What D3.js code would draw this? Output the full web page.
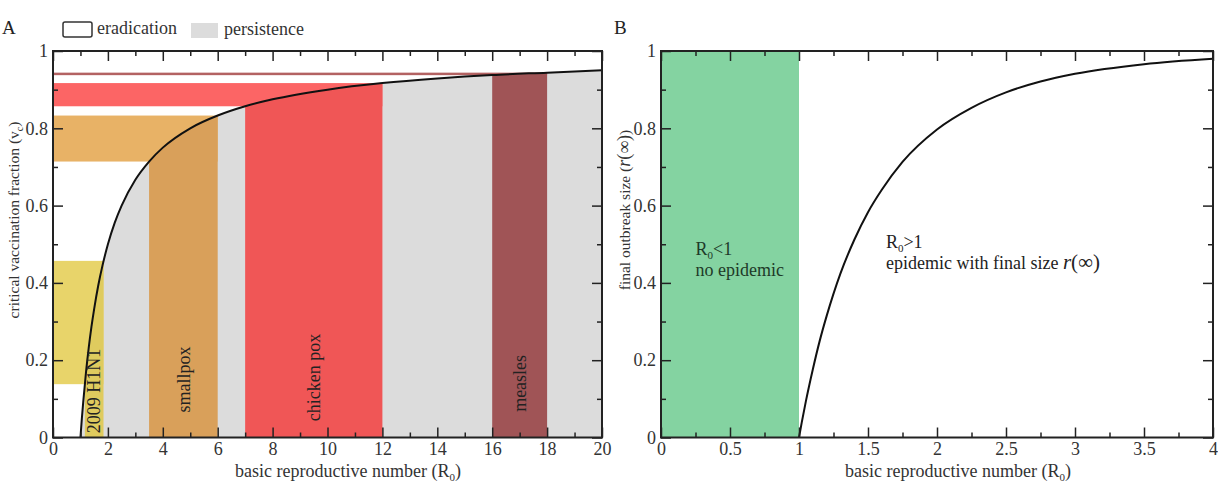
<!DOCTYPE html>
<html>
<head>
<meta charset="utf-8">
<script src="https://cdn.jsdelivr.net/npm/d3@7"></script>
<style>
  body { margin: 0; background: #fff; }
  svg { display: block; font-family: "Liberation Serif", "DejaVu Serif", serif; }
</style>
</head>
<body>
<svg width="1218" height="486"></svg>
<script>
// values

// panel A: critical vaccination fraction vs R0
var r0A = [1, 1.05, 1.1, 1.2, 1.3, 1.4, 1.5, 1.65, 1.8, 2, 2.25, 2.5, 3, 3.5, 4, 5, 6, 7, 8, 10, 12, 14, 16, 18, 20];
var vcA = [0, 0.048, 0.091, 0.167, 0.231, 0.286, 0.333, 0.394, 0.444, 0.5, 0.556, 0.6, 0.667, 0.714, 0.75, 0.8, 0.833, 0.857, 0.875, 0.9, 0.917, 0.929, 0.938, 0.944, 0.95];

// diseases: R0 range and matching vc range
var diseases = ["2009 H1N1", "smallpox", "chicken pox", "measles"];
var r0Lo = [1.16, 3.5, 7, 16];
var r0Hi = [1.84, 6, 12, 18];
var vcLo = [0.138, 0.714, 0.857, 0.9375];
var vcHi = [0.457, 0.833, 0.917, 0.944];

// panel B: final outbreak size vs R0
var r0B = [1, 1.02, 1.05, 1.1, 1.15, 1.2, 1.3, 1.4, 1.5, 1.6, 1.75, 2, 2.25, 2.5, 2.75, 3, 3.5, 4];
var sizeB = [0, 0.039, 0.094, 0.176, 0.25, 0.314, 0.424, 0.511, 0.583, 0.641, 0.713, 0.797, 0.853, 0.893, 0.921, 0.941, 0.966, 0.98];

// ticks
var xTicksA = d3.range(0, 21, 2), xMinorA = d3.range(1, 20, 2);
var yTicks = [0, 0.2, 0.4, 0.6, 0.8, 1], yMinor = [0.1, 0.3, 0.5, 0.7, 0.9];
var xTicksB = [0, 0.5, 1, 1.5, 2, 2.5, 3, 3.5, 4], xMinorB = [0.25, 0.75, 1.25, 1.75, 2.25, 2.75, 3.25, 3.75];

var hColors = ["#e8d46a", "#e8b266", "#fc6565", "#b36262"];
var vColors = ["#dfcb5e", "#d9a05a", "#f05656", "#a05456"];
var grey = "#dcdcdc";

var svg = d3.select("svg");
var fontSize = 18;

var top_ = 51, height = 386.5;

function frame(g, x, y, xMaj, xMin, w, h) {
    var fmt = d3.format("~g");
    g.append("g").attr("transform", "translate(0," + h + ")")
        .call(d3.axisBottom(x).tickValues(xMaj).tickSizeInner(-10).tickSizeOuter(0).tickPadding(5).tickFormat(fmt));
    g.append("g").attr("transform", "translate(0," + h + ")")
        .call(d3.axisBottom(x).tickValues(xMin).tickSizeInner(-5).tickSizeOuter(0).tickFormat(""));
    g.append("g")
        .call(d3.axisTop(x).tickValues(xMaj).tickSizeInner(-10).tickSizeOuter(0).tickFormat(""));
    g.append("g")
        .call(d3.axisTop(x).tickValues(xMin).tickSizeInner(-5).tickSizeOuter(0).tickFormat(""));
    g.append("g")
        .call(d3.axisLeft(y).tickValues(yTicks).tickSizeInner(-10).tickSizeOuter(0).tickPadding(5).tickFormat(fmt));
    g.append("g")
        .call(d3.axisLeft(y).tickValues(yMinor).tickSizeInner(-5).tickSizeOuter(0).tickFormat(""));
    g.append("g").attr("transform", "translate(" + w + ",0)")
        .call(d3.axisRight(y).tickValues(yTicks).tickSizeInner(-10).tickSizeOuter(0).tickFormat(""));
    g.append("g").attr("transform", "translate(" + w + ",0)")
        .call(d3.axisRight(y).tickValues(yMinor).tickSizeInner(-5).tickSizeOuter(0).tickFormat(""));

    g.selectAll(".domain").remove();
    g.selectAll(".tick line").attr("stroke", "#222").attr("stroke-width", 1.5);
    g.selectAll(".tick text")
        .attr("font-family", "Liberation Serif, serif")
        .style("font-size", fontSize + "px")
        .attr("fill", "#333");

    g.append("rect")
        .attr("width", w).attr("height", h)
        .attr("fill", "none").attr("stroke", "#222").attr("stroke-width", 2);
}

// ---------- panel A ----------
var leftA = 53, widthA = 549;
var gA = svg.append("g").attr("transform", "translate(" + leftA + "," + top_ + ")");
var xA = d3.scaleLinear().domain([0, 20]).range([0, widthA]);
var yA = d3.scaleLinear().domain([0, 1]).range([height, 0]);

var ptsA = r0A.map(function(d, i) { return [d, vcA[i]]; });

var areaA = d3.area()
    .x(d => xA(d[0]))
    .y0(yA(0))
    .y1(d => yA(d[1]))
    .curve(d3.curveMonotoneX);
var lineA = d3.line()
    .x(d => xA(d[0]))
    .y(d => yA(d[1]))
    .curve(d3.curveMonotoneX);

svg.append("defs").append("clipPath").attr("id", "under")
    .append("path").attr("d", areaA(ptsA));

// persistence region
gA.append("path").attr("d", areaA(ptsA)).attr("fill", grey);

// horizontal bands (vc ranges)
gA.selectAll(".hband")
    .data(diseases)
    .join("rect")
    .attr("class", "hband")
    .attr("x", xA(0))
    .attr("width", (d, i) => xA(r0Hi[i]) - xA(0))
    .attr("y", (d, i) => yA(vcHi[i]))
    .attr("height", (d, i) => yA(vcLo[i]) - yA(vcHi[i]))
    .attr("fill", (d, i) => hColors[i]);

// vertical bands (R0 ranges), under the curve
gA.append("g").attr("clip-path", "url(#under)")
    .selectAll("rect")
    .data(diseases)
    .join("rect")
    .attr("x", (d, i) => xA(r0Lo[i]))
    .attr("width", (d, i) => xA(r0Hi[i]) - xA(r0Lo[i]))
    .attr("y", yA(1))
    .attr("height", height)
    .attr("fill", (d, i) => vColors[i]);

gA.append("path")
    .attr("d", lineA(ptsA))
    .attr("fill", "none")
    .attr("stroke", "#111")
    .attr("stroke-width", 2);

// disease labels
var labelY = [0.12, 0.15, 0.155, 0.14];
gA.selectAll(".dlabel")
    .data(diseases)
    .join("text")
    .attr("class", "dlabel")
    .attr("transform", (d, i) => "translate(" + xA((r0Lo[i] + r0Hi[i]) / 2) + "," + yA(labelY[i]) + ") rotate(-90)")
    .attr("text-anchor", "middle")
    .attr("dy", "0.35em")
    .style("font-size", "18px")
    .attr("fill", "#222")
    .text(d => d);

frame(gA, xA, yA, xTicksA, xMinorA, widthA, height);

// ---------- panel B ----------
var leftB = 661, widthB = 552;
var gB = svg.append("g").attr("transform", "translate(" + leftB + "," + top_ + ")");
var xB = d3.scaleLinear().domain([0, 4]).range([0, widthB]);
var yB = d3.scaleLinear().domain([0, 1]).range([height, 0]);

gB.append("rect")
    .attr("x", xB(0)).attr("y", yB(1))
    .attr("width", xB(1) - xB(0)).attr("height", yB(0) - yB(1))
    .attr("fill", "#84d3a1");

var ptsB = r0B.map(function(d, i) { return [d, sizeB[i]]; });
gB.append("path")
    .attr("d", d3.line().x(d => xB(d[0])).y(d => yB(d[1])).curve(d3.curveMonotoneX)(ptsB))
    .attr("fill", "none")
    .attr("stroke", "#111")
    .attr("stroke-width", 2);

// annotations
var noteL = gB.append("text").attr("x", xB(0.25)).attr("y", 204)
    .style("font-size", "18px").attr("fill", "#1e3a28");
noteL.append("tspan").text("R");
noteL.append("tspan").attr("dy", 4).style("font-size", "11px").text("0");
noteL.append("tspan").attr("dy", -4).text("<1");
gB.append("text").attr("x", xB(0.25)).attr("y", 225)
    .style("font-size", "18px").attr("fill", "#1e3a28").text("no epidemic");

var noteR = gB.append("text").attr("x", xB(1.63)).attr("y", 197)
    .style("font-size", "18px").attr("fill", "#222");
noteR.append("tspan").text("R");
noteR.append("tspan").attr("dy", 4).style("font-size", "11px").text("0");
noteR.append("tspan").attr("dy", -4).text(">1");
var noteR2 = gB.append("text").attr("x", xB(1.63)).attr("y", 218)
    .style("font-size", "18px").attr("fill", "#222");
noteR2.append("tspan").text("epidemic with final size ");
noteR2.append("tspan").style("font-style", "italic").style("font-size", "21px").text("r");
noteR2.append("tspan").style("font-size", "21px").text("(∞)");

frame(gB, xB, yB, xTicksB, xMinorB, widthB, height);

// ---------- axis titles ----------
function r0Title(cx) {
    var t = svg.append("text").attr("x", cx).attr("y", 477)
        .attr("text-anchor", "middle").style("font-size", "18px").attr("fill", "#333");
    t.append("tspan").text("basic reproductive number (R");
    t.append("tspan").attr("dy", 4).style("font-size", "11px").text("0");
    t.append("tspan").attr("dy", -4).text(")");
}
r0Title(348);
r0Title(958);

var ytA = svg.append("text")
    .attr("transform", "translate(19,220) rotate(-90)")
    .attr("text-anchor", "middle").style("font-size", "15.5px").attr("fill", "#333");
ytA.append("tspan").text("critical vaccination fraction (v");
ytA.append("tspan").attr("dy", 4).style("font-size", "10px").text("c");
ytA.append("tspan").attr("dy", -4).text(")");

var ytB = svg.append("text")
    .attr("transform", "translate(630,210) rotate(-90)")
    .attr("text-anchor", "middle").style("font-size", "15.5px").attr("fill", "#333");
ytB.append("tspan").text("final outbreak size (");
ytB.append("tspan").style("font-style", "italic").style("font-size", "18px").text("r");
ytB.append("tspan").style("font-size", "18px").text("(∞)");
ytB.append("tspan").text(")");

// panel letters
svg.append("text").attr("x", 2).attr("y", 34).style("font-size", "19px").attr("fill", "#222").text("A");
svg.append("text").attr("x", 614).attr("y", 34).style("font-size", "19px").attr("fill", "#222").text("B");

// legend
var leg = svg.append("g");
leg.append("rect").attr("x", 63).attr("y", 22).attr("width", 29).attr("height", 15).attr("rx", 2)
    .attr("fill", "#fff").attr("stroke", "#333").attr("stroke-width", 1.5);
leg.append("text").attr("x", 97).attr("y", 34).style("font-size", "18px").attr("fill", "#333").text("eradication");
leg.append("rect").attr("x", 191).attr("y", 23).attr("width", 27).attr("height", 15).attr("fill", grey);
leg.append("text").attr("x", 224).attr("y", 35).style("font-size", "18px").attr("fill", "#333").text("persistence");
</script>
</body>
</html>
